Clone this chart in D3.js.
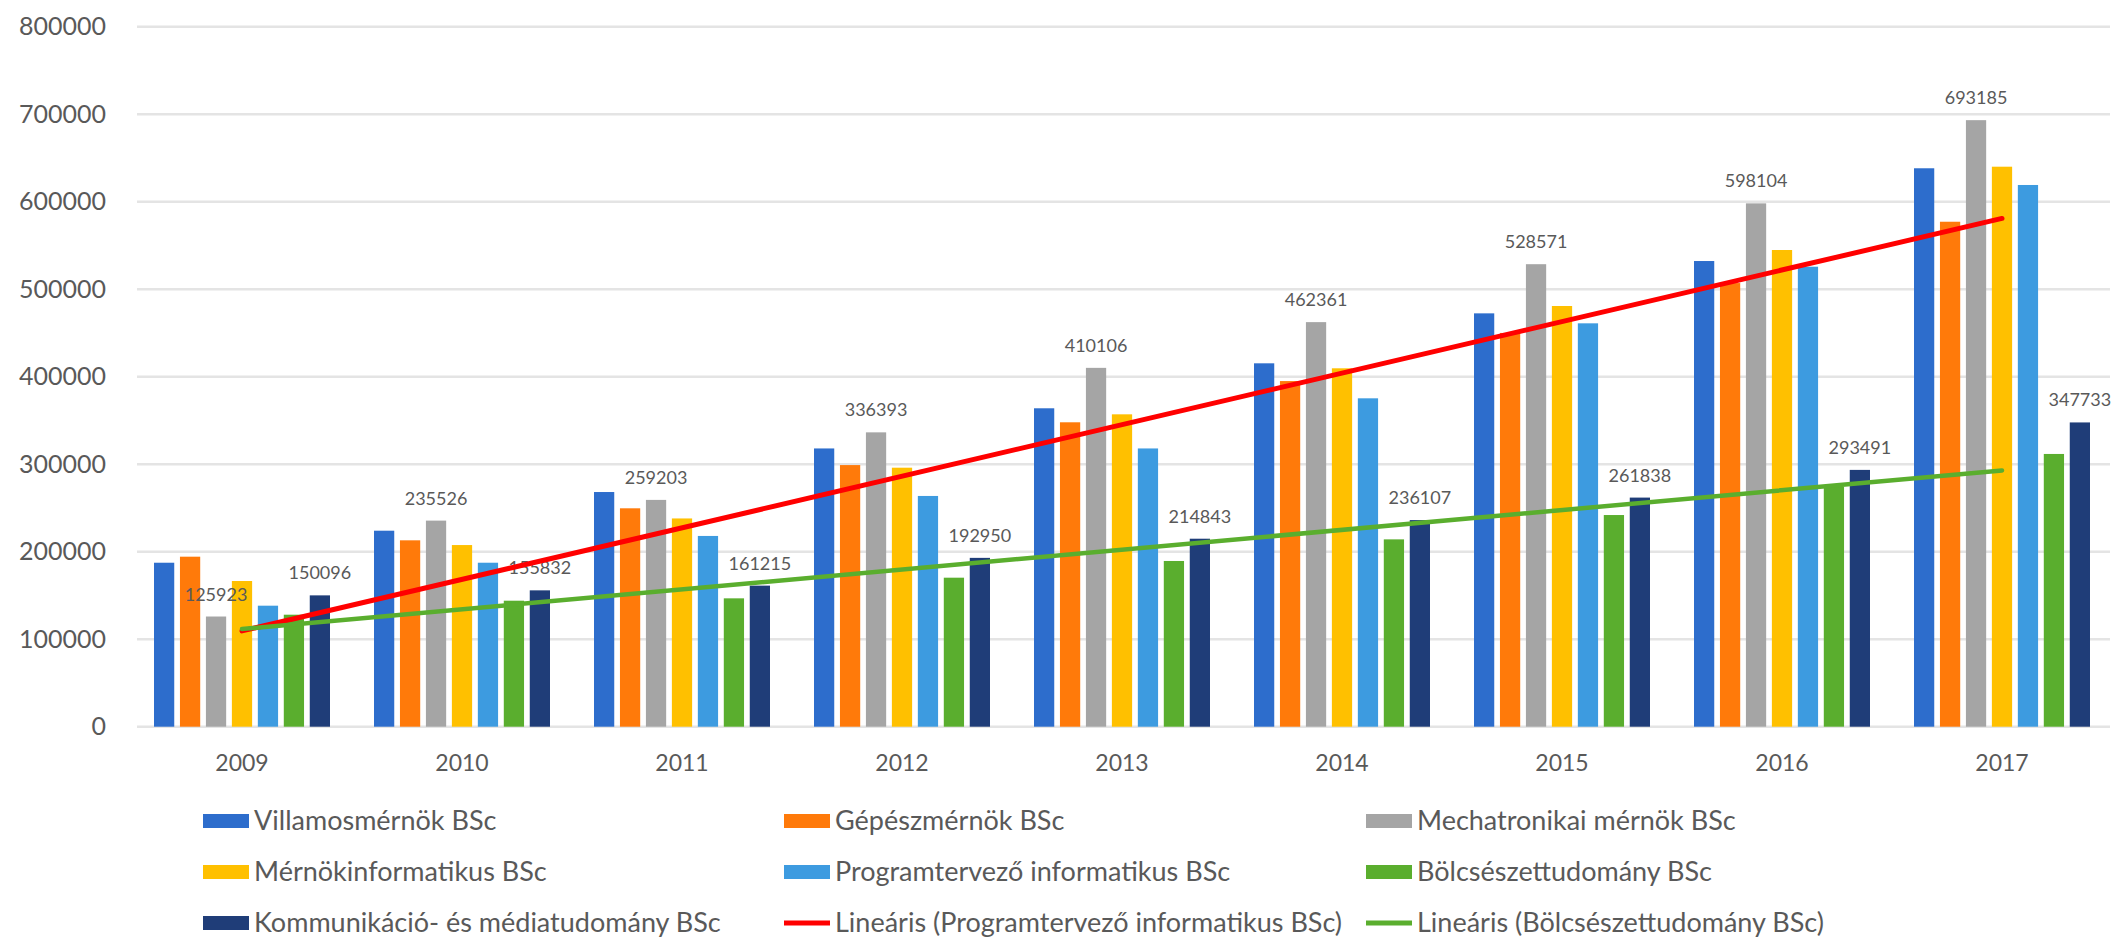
<!DOCTYPE html>
<html>
<head>
<meta charset="utf-8">
<script src="https://cdn.jsdelivr.net/npm/d3@7"></script>
<style>
  html, body { margin: 0; padding: 0; background: #fff; }
  svg { display: block; font-family: Lato, 'Open Sans', sans-serif; }
</style>
</head>
<body>
<svg id="chart"></svg>
<script>
// Data
const years = ['2009', '2010', '2011', '2012', '2013', '2014', '2015', '2016', '2017']
const seriesNames = [
	'Villamosmérnök BSc',
	'Gépészmérnök BSc',
	'Mechatronikai mérnök BSc',
	'Mérnökinformatikus BSc',
	'Programtervező informatikus BSc',
	'Bölcsészettudomány BSc',
	'Kommunikáció- és médiatudomány BSc',
]
const villamos = [187400, 224000, 268200, 318000, 363900, 415300, 472400, 532200, 638200]
const gepesz = [194300, 213000, 249600, 299000, 347900, 395000, 450000, 507000, 577100]
const mechatronikai = [125923, 235526, 259203, 336393, 410106, 462361, 528571, 598104, 693185]
const mernokinf = [166500, 207600, 238000, 296000, 357000, 409600, 480800, 544800, 640000]
const programtervezo = [138300, 187400, 218000, 263700, 318000, 375300, 461000, 525700, 619100]
const bolcsesz = [128000, 144000, 146700, 170300, 189400, 214100, 241900, 274300, 311700]
const kommunikacio = [150096, 155832, 161215, 192950, 214843, 236107, 261838, 293491, 347733]
const yTicks = [0, 100000, 200000, 300000, 400000, 500000, 600000, 700000, 800000]

const series = [villamos, gepesz, mechatronikai, mernokinf, programtervezo, bolcsesz, kommunikacio]
const colours = ['#2d6dcc', '#ff7a0a', '#a5a5a5', '#ffc000', '#3d9be0', '#5aae2e', '#1f3d78']
const labelledSeries = [2, 6] // data labels on Mechatronikai and Kommunikáció

const trendNames = ['Lineáris (Programtervező informatikus BSc)', 'Lineáris (Bölcsészettudomány BSc)']
const trendSeries = [4, 5]
const trendColours = ['#ff0000', '#5aae2e']

var width = 2115,
	height = 939

var svg = d3.select('#chart').attr('width', width).attr('height', height)

// Scales
var x0 = d3.scaleBand().domain(years).range([132, 2112]).paddingInner(0.2).paddingOuter(0.1)
var x1 = d3.scaleBand().domain(d3.range(series.length)).range([0, x0.bandwidth()]).paddingInner(0.22)
var y = d3.scaleLinear().domain([0, 800000]).range([726.7, 26.7])

// Gridlines
svg.append('g')
	.selectAll('line')
	.data(yTicks)
	.join('line')
	.attr('x1', 137)
	.attr('x2', 2110)
	.attr('y1', (d) => y(d))
	.attr('y2', (d) => y(d))
	.attr('stroke', '#e4e4e4')
	.attr('stroke-width', 2.5)

// Y labels
svg.append('g')
	.selectAll('text')
	.data(yTicks)
	.join('text')
	.attr('x', 106)
	.attr('y', (d) => y(d))
	.attr('dy', '0.35em')
	.attr('text-anchor', 'end')
	.attr('font-size', 25)
	.attr('fill', '#595959')
	.text((d) => d)

// X labels
svg.append('g')
	.selectAll('text')
	.data(years)
	.join('text')
	.attr('x', (d) => x0(d) + x0.bandwidth() / 2)
	.attr('y', 771)
	.attr('text-anchor', 'middle')
	.attr('font-size', 23)
	.attr('fill', '#595959')
	.text((d) => d)

// Bars
var groups = svg
	.append('g')
	.selectAll('g')
	.data(years)
	.join('g')
	.attr('transform', (d) => 'translate(' + x0(d) + ',0)')

groups
	.selectAll('rect')
	.data((d, i) => series.map((s, k) => ({ k: k, value: s[i] })))
	.join('rect')
	.attr('x', (d) => x1(d.k))
	.attr('width', x1.bandwidth())
	.attr('y', (d) => y(d.value))
	.attr('height', (d) => y(0) - y(d.value))
	.attr('fill', (d) => colours[d.k])

// Data labels
groups
	.selectAll('text')
	.data((d, i) => labelledSeries.map((k) => ({ k: k, value: series[k][i] })))
	.join('text')
	.attr('x', (d) => x1(d.k) + x1.bandwidth() / 2)
	.attr('y', (d) => y(d.value) - 16)
	.attr('text-anchor', 'middle')
	.attr('font-size', 18)
	.attr('fill', '#595959')
	.text((d) => d.value)

// Linear trendlines (least squares over year index)
function linearFit(values) {
	var n = values.length
	var mx = (n - 1) / 2
	var my = d3.mean(values)
	var sxy = d3.sum(values, (v, i) => (i - mx) * (v - my))
	var sxx = d3.sum(values, (v, i) => (i - mx) * (i - mx))
	var slope = sxy / sxx
	return [my - slope * mx, my + slope * (n - 1 - mx)]
}

trendSeries.forEach(function (k, j) {
	var ends = linearFit(series[k])
	svg.append('line')
		.attr('x1', x0(years[0]) + x0.bandwidth() / 2)
		.attr('x2', x0(years[years.length - 1]) + x0.bandwidth() / 2)
		.attr('y1', y(ends[0]))
		.attr('y2', y(ends[1]))
		.attr('stroke', trendColours[j])
		.attr('stroke-width', j === 0 ? 5 : 4.5)
		.attr('stroke-linecap', 'round')
})

// Legend
var legendItems = seriesNames
	.map((name, k) => ({ name: name, colour: colours[k], type: 'bar' }))
	.concat(trendNames.map((name, j) => ({ name: name, colour: trendColours[j], type: 'line' })))
var legendCols = [203, 784, 1366]
var legendRows = [821, 872, 923]

var legend = svg
	.append('g')
	.selectAll('g')
	.data(legendItems)
	.join('g')
	.attr('transform', (d, i) => 'translate(' + legendCols[i % 3] + ',' + legendRows[Math.floor(i / 3)] + ')')

legend
	.filter((d) => d.type === 'bar')
	.append('rect')
	.attr('x', 0)
	.attr('y', -7)
	.attr('width', 46)
	.attr('height', 14)
	.attr('fill', (d) => d.colour)

legend
	.filter((d) => d.type === 'line')
	.append('line')
	.attr('x1', 0)
	.attr('x2', 46)
	.attr('stroke', (d) => d.colour)
	.attr('stroke-width', 5)

legend
	.append('text')
	.attr('x', 51)
	.attr('dy', '0.35em')
	.attr('font-size', 27)
	.attr('fill', '#595959')
	.text((d) => d.name)
</script>
</body>
</html>
